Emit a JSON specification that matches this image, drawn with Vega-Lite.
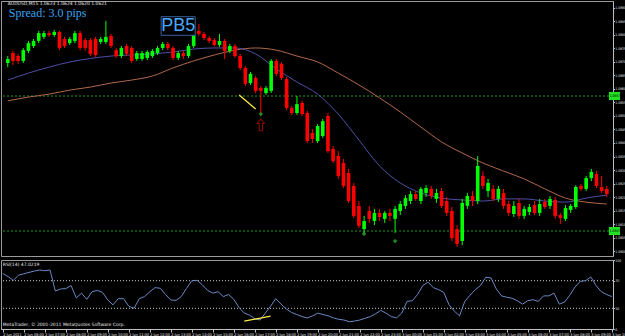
{
"$schema": "https://vega.github.io/schema/vega-lite/v6.json",
"background": "#000000",
"padding": 0,
"bounds": "flush",
"spacing": 4,
"config": {
  "view": {"stroke": "#9a9a9a", "strokeWidth": 1},
  "axis": {"grid": false, "labelColor": "#e8e8e8", "labelFont": "DejaVu Sans Condensed", "labelFontSize": 3.4, "tickColor": "#bdbdbd", "domainColor": "#bdbdbd", "tickSize": 1.5, "labelPadding": 0.3, "labelOverlap": false, "labelFlush": false}
},
"datasets": {
"bars": [
{"i":0,"o":1.06696,"h":1.06722,"l":1.06681,"c":1.06711,"rsi":80.5},
{"i":1,"o":1.06733,"h":1.06741,"l":1.06689,"c":1.06704,"rsi":76},
{"i":2,"o":1.06722,"h":1.06730,"l":1.06693,"c":1.06704,"rsi":70.5},
{"i":3,"o":1.06704,"h":1.06752,"l":1.06696,"c":1.06744,"rsi":78},
{"i":4,"o":1.06741,"h":1.06778,"l":1.06733,"c":1.06770,"rsi":80},
{"i":5,"o":1.06759,"h":1.06785,"l":1.06752,"c":1.06778,"rsi":82},
{"i":6,"o":1.06778,"h":1.06815,"l":1.06770,"c":1.06807,"rsi":84},
{"i":7,"o":1.06793,"h":1.06815,"l":1.06785,"c":1.06807,"rsi":85.5},
{"i":8,"o":1.06807,"h":1.06815,"l":1.06793,"c":1.06800,"rsi":84.5},
{"i":9,"o":1.06800,"h":1.06819,"l":1.06793,"c":1.06811,"rsi":85.5},
{"i":10,"o":1.06811,"h":1.06815,"l":1.06744,"c":1.06752,"rsi":55},
{"i":11,"o":1.06785,"h":1.06793,"l":1.06752,"c":1.06759,"rsi":58},
{"i":12,"o":1.06770,"h":1.06793,"l":1.06763,"c":1.06785,"rsi":58.5},
{"i":13,"o":1.06778,"h":1.06815,"l":1.06770,"c":1.06807,"rsi":63},
{"i":14,"o":1.06807,"h":1.06815,"l":1.06744,"c":1.06752,"rsi":45},
{"i":15,"o":1.06781,"h":1.06789,"l":1.06741,"c":1.06752,"rsi":52},
{"i":16,"o":1.06781,"h":1.06789,"l":1.06722,"c":1.06730,"rsi":43},
{"i":17,"o":1.06785,"h":1.06793,"l":1.06719,"c":1.06726,"rsi":54},
{"i":18,"o":1.06774,"h":1.06793,"l":1.06767,"c":1.06785,"rsi":56},
{"i":19,"o":1.06774,"h":1.06852,"l":1.06767,"c":1.06793,"rsi":53},
{"i":20,"o":1.06796,"h":1.06804,"l":1.06752,"c":1.06759,"rsi":42},
{"i":21,"o":1.06744,"h":1.06752,"l":1.06715,"c":1.06722,"rsi":35},
{"i":22,"o":1.06722,"h":1.06759,"l":1.06715,"c":1.06752,"rsi":44},
{"i":23,"o":1.06759,"h":1.06767,"l":1.06722,"c":1.06730,"rsi":44},
{"i":24,"o":1.06752,"h":1.06759,"l":1.06696,"c":1.06704,"rsi":33},
{"i":25,"o":1.06711,"h":1.06741,"l":1.06704,"c":1.06733,"rsi":30},
{"i":26,"o":1.06711,"h":1.06741,"l":1.06704,"c":1.06733,"rsi":44},
{"i":27,"o":1.06715,"h":1.06744,"l":1.06707,"c":1.06737,"rsi":47},
{"i":28,"o":1.06722,"h":1.06748,"l":1.06715,"c":1.06741,"rsi":54},
{"i":29,"o":1.06733,"h":1.06759,"l":1.06726,"c":1.06752,"rsi":60},
{"i":30,"o":1.06752,"h":1.06774,"l":1.06744,"c":1.06767,"rsi":59},
{"i":31,"o":1.06767,"h":1.06774,"l":1.06744,"c":1.06752,"rsi":50},
{"i":32,"o":1.06752,"h":1.06759,"l":1.06707,"c":1.06715,"rsi":42},
{"i":33,"o":1.06715,"h":1.06741,"l":1.06707,"c":1.06733,"rsi":41.5},
{"i":34,"o":1.06733,"h":1.06741,"l":1.06711,"c":1.06722,"rsi":47},
{"i":35,"o":1.06722,"h":1.06767,"l":1.06715,"c":1.06759,"rsi":59},
{"i":36,"o":1.06759,"h":1.06811,"l":1.06752,"c":1.06804,"rsi":70},
{"i":37,"o":1.06815,"h":1.06841,"l":1.06796,"c":1.06804,"rsi":70.5},
{"i":38,"o":1.06804,"h":1.06811,"l":1.06781,"c":1.06789,"rsi":64},
{"i":39,"o":1.06789,"h":1.06796,"l":1.06770,"c":1.06778,"rsi":56},
{"i":40,"o":1.06781,"h":1.06789,"l":1.06756,"c":1.06763,"rsi":52},
{"i":41,"o":1.06763,"h":1.06804,"l":1.06756,"c":1.06778,"rsi":54},
{"i":42,"o":1.06778,"h":1.06785,"l":1.06711,"c":1.06741,"rsi":47},
{"i":43,"o":1.06741,"h":1.06767,"l":1.06733,"c":1.06759,"rsi":50},
{"i":44,"o":1.06759,"h":1.06767,"l":1.06715,"c":1.06722,"rsi":43},
{"i":45,"o":1.06722,"h":1.06730,"l":1.06670,"c":1.06678,"rsi":31},
{"i":46,"o":1.06678,"h":1.06685,"l":1.06611,"c":1.06619,"rsi":23},
{"i":47,"o":1.06622,"h":1.06663,"l":1.06615,"c":1.06656,"rsi":20},
{"i":48,"o":1.06641,"h":1.06648,"l":1.06585,"c":1.06593,"rsi":15},
{"i":49,"o":1.06604,"h":1.06611,"l":1.06511,"c":1.06593,"rsi":13},
{"i":50,"o":1.06585,"h":1.06611,"l":1.06578,"c":1.06604,"rsi":23},
{"i":51,"o":1.06593,"h":1.06711,"l":1.06585,"c":1.06704,"rsi":33},
{"i":52,"o":1.06704,"h":1.06711,"l":1.06648,"c":1.06656,"rsi":44},
{"i":53,"o":1.06693,"h":1.06700,"l":1.06633,"c":1.06641,"rsi":36},
{"i":54,"o":1.06637,"h":1.06644,"l":1.06522,"c":1.06530,"rsi":29},
{"i":55,"o":1.06530,"h":1.06537,"l":1.06504,"c":1.06511,"rsi":24},
{"i":56,"o":1.06511,"h":1.06574,"l":1.06504,"c":1.06544,"rsi":21},
{"i":57,"o":1.06548,"h":1.06556,"l":1.06500,"c":1.06507,"rsi":18},
{"i":58,"o":1.06511,"h":1.06519,"l":1.06400,"c":1.06407,"rsi":16},
{"i":59,"o":1.06437,"h":1.06452,"l":1.06400,"c":1.06415,"rsi":19},
{"i":60,"o":1.06407,"h":1.06470,"l":1.06400,"c":1.06463,"rsi":23},
{"i":61,"o":1.06426,"h":1.06489,"l":1.06419,"c":1.06481,"rsi":21},
{"i":62,"o":1.06500,"h":1.06511,"l":1.06363,"c":1.06370,"rsi":19},
{"i":63,"o":1.06378,"h":1.06389,"l":1.06326,"c":1.06333,"rsi":16},
{"i":64,"o":1.06352,"h":1.06370,"l":1.06267,"c":1.06278,"rsi":14},
{"i":65,"o":1.06326,"h":1.06341,"l":1.06233,"c":1.06241,"rsi":13},
{"i":66,"o":1.06289,"h":1.06304,"l":1.06178,"c":1.06185,"rsi":10.5},
{"i":67,"o":1.06241,"h":1.06252,"l":1.06122,"c":1.06130,"rsi":11.5},
{"i":68,"o":1.06167,"h":1.06185,"l":1.06085,"c":1.06093,"rsi":13},
{"i":69,"o":1.06081,"h":1.06130,"l":1.06067,"c":1.06111,"rsi":15.5},
{"i":70,"o":1.06148,"h":1.06167,"l":1.06104,"c":1.06119,"rsi":18},
{"i":71,"o":1.06111,"h":1.06156,"l":1.06096,"c":1.06141,"rsi":22},
{"i":72,"o":1.06141,"h":1.06156,"l":1.06111,"c":1.06126,"rsi":27},
{"i":73,"o":1.06119,"h":1.06148,"l":1.06104,"c":1.06141,"rsi":23},
{"i":74,"o":1.06141,"h":1.06156,"l":1.06111,"c":1.06130,"rsi":18},
{"i":75,"o":1.06119,"h":1.06167,"l":1.06067,"c":1.06156,"rsi":16},
{"i":76,"o":1.06148,"h":1.06185,"l":1.06133,"c":1.06174,"rsi":23},
{"i":77,"o":1.06167,"h":1.06207,"l":1.06156,"c":1.06196,"rsi":40},
{"i":78,"o":1.06185,"h":1.06222,"l":1.06174,"c":1.06211,"rsi":41},
{"i":79,"o":1.06211,"h":1.06222,"l":1.06185,"c":1.06193,"rsi":50},
{"i":80,"o":1.06185,"h":1.06237,"l":1.06174,"c":1.06230,"rsi":63},
{"i":81,"o":1.06215,"h":1.06244,"l":1.06200,"c":1.06233,"rsi":68},
{"i":82,"o":1.06230,"h":1.06241,"l":1.06193,"c":1.06204,"rsi":60},
{"i":83,"o":1.06193,"h":1.06230,"l":1.06178,"c":1.06215,"rsi":57},
{"i":84,"o":1.06222,"h":1.06233,"l":1.06159,"c":1.06167,"rsi":53},
{"i":85,"o":1.06185,"h":1.06200,"l":1.06130,"c":1.06141,"rsi":35},
{"i":86,"o":1.06148,"h":1.06163,"l":1.06037,"c":1.06048,"rsi":26},
{"i":87,"o":1.06081,"h":1.06096,"l":1.06015,"c":1.06026,"rsi":19},
{"i":88,"o":1.06037,"h":1.06193,"l":1.06022,"c":1.06178,"rsi":40},
{"i":89,"o":1.06167,"h":1.06215,"l":1.06156,"c":1.06204,"rsi":49},
{"i":90,"o":1.06204,"h":1.06222,"l":1.06167,"c":1.06185,"rsi":57},
{"i":91,"o":1.06185,"h":1.06352,"l":1.06174,"c":1.06315,"rsi":63},
{"i":92,"o":1.06278,"h":1.06296,"l":1.06230,"c":1.06241,"rsi":75},
{"i":93,"o":1.06222,"h":1.06267,"l":1.06200,"c":1.06252,"rsi":74},
{"i":94,"o":1.06230,"h":1.06244,"l":1.06185,"c":1.06193,"rsi":58},
{"i":95,"o":1.06193,"h":1.06241,"l":1.06181,"c":1.06230,"rsi":48},
{"i":96,"o":1.06215,"h":1.06230,"l":1.06156,"c":1.06167,"rsi":46},
{"i":97,"o":1.06174,"h":1.06185,"l":1.06130,"c":1.06141,"rsi":44.5},
{"i":98,"o":1.06137,"h":1.06185,"l":1.06126,"c":1.06167,"rsi":41},
{"i":99,"o":1.06178,"h":1.06193,"l":1.06119,"c":1.06130,"rsi":36},
{"i":100,"o":1.06130,"h":1.06167,"l":1.06119,"c":1.06156,"rsi":41},
{"i":101,"o":1.06144,"h":1.06174,"l":1.06133,"c":1.06163,"rsi":42.5},
{"i":102,"o":1.06170,"h":1.06185,"l":1.06133,"c":1.06141,"rsi":40},
{"i":103,"o":1.06141,"h":1.06193,"l":1.06130,"c":1.06174,"rsi":48},
{"i":104,"o":1.06181,"h":1.06193,"l":1.06156,"c":1.06163,"rsi":48},
{"i":105,"o":1.06167,"h":1.06204,"l":1.06156,"c":1.06193,"rsi":52},
{"i":106,"o":1.06189,"h":1.06200,"l":1.06119,"c":1.06130,"rsi":36},
{"i":107,"o":1.06133,"h":1.06141,"l":1.06100,"c":1.06122,"rsi":39},
{"i":108,"o":1.06119,"h":1.06170,"l":1.06111,"c":1.06159,"rsi":49},
{"i":109,"o":1.06152,"h":1.06174,"l":1.06141,"c":1.06167,"rsi":61},
{"i":110,"o":1.06163,"h":1.06244,"l":1.06156,"c":1.06237,"rsi":69},
{"i":111,"o":1.06241,"h":1.06248,"l":1.06222,"c":1.06230,"rsi":70},
{"i":112,"o":1.06230,"h":1.06278,"l":1.06222,"c":1.06270,"rsi":75.5},
{"i":113,"o":1.06270,"h":1.06304,"l":1.06259,"c":1.06293,"rsi":63},
{"i":114,"o":1.06285,"h":1.06296,"l":1.06233,"c":1.06241,"rsi":54},
{"i":115,"o":1.06237,"h":1.06278,"l":1.06215,"c":1.06222,"rsi":50},
{"i":116,"o":1.06230,"h":1.06241,"l":1.06200,"c":1.06211,"rsi":47}
],
"ma": [
{"i":0,"fast":1.06633,"slow":1.06556},
{"i":4,"fast":1.06659,"slow":1.06570},
{"i":8,"fast":1.06681,"slow":1.06581},
{"i":12,"fast":1.06700,"slow":1.06596},
{"i":16,"fast":1.06713,"slow":1.06607},
{"i":20,"fast":1.06722,"slow":1.06622},
{"i":24,"fast":1.06726,"slow":1.06633},
{"i":28,"fast":1.06730,"slow":1.06648},
{"i":32,"fast":1.06737,"slow":1.06678},
{"i":36,"fast":1.06748,"slow":1.06704},
{"i":40,"fast":1.06752,"slow":1.06726},
{"i":44,"fast":1.06752,"slow":1.06744},
{"i":48,"fast":1.06730,"slow":1.06752},
{"i":52,"fast":1.06674,"slow":1.06744},
{"i":56,"fast":1.06626,"slow":1.06722},
{"i":60,"fast":1.06581,"slow":1.06700},
{"i":64,"fast":1.06507,"slow":1.06659},
{"i":68,"fast":1.06411,"slow":1.06615},
{"i":72,"fast":1.06315,"slow":1.06567},
{"i":76,"fast":1.06252,"slow":1.06515},
{"i":80,"fast":1.06215,"slow":1.06459},
{"i":84,"fast":1.06196,"slow":1.06404},
{"i":88,"fast":1.06189,"slow":1.06363},
{"i":92,"fast":1.06185,"slow":1.06326},
{"i":96,"fast":1.06193,"slow":1.06296},
{"i":100,"fast":1.06193,"slow":1.06267},
{"i":104,"fast":1.06185,"slow":1.06230},
{"i":108,"fast":1.06181,"slow":1.06196},
{"i":112,"fast":1.06196,"slow":1.06181},
{"i":116,"fast":1.06207,"slow":1.06174}
]
},
"vconcat": [
{
  "width": 612,
  "height": 255,
  "layer": [
    {
      "data": {"values": [{"level": 1.06574}, {"level": 1.06074}]},
      "mark": {"type": "rule", "color": "#1e9a1e", "strokeDash": [2, 2], "strokeWidth": 1},
      "encoding": {
        "y": {"field": "level", "type": "quantitative", "title": null, "scale": {"domain": [1.059815, 1.069259], "nice": false, "zero": false}, "axis": {"orient": "right", "values": [1.06, 1.0605, 1.061, 1.0615, 1.062, 1.0625, 1.063, 1.0635, 1.064, 1.0645, 1.065, 1.0655, 1.066, 1.0665, 1.067, 1.0675, 1.068, 1.0685, 1.069], "format": ".4f", "labelOverlap": false}}
      }
    },
    {
      "data": {"name": "ma"},
      "mark": {"type": "line", "color": "#b0694a", "strokeWidth": 1, "interpolate": "monotone"},
      "encoding": {
        "x": {"field": "i", "type": "quantitative", "title": null, "axis": null, "scale": {"domain": [-0.343, 116.23], "nice": false, "zero": false}},
        "y": {"field": "slow", "type": "quantitative", "title": null, "scale": {"domain": [1.059815, 1.069259], "nice": false, "zero": false}, "axis": {"orient": "right", "values": [1.06, 1.0605, 1.061, 1.0615, 1.062, 1.0625, 1.063, 1.0635, 1.064, 1.0645, 1.065, 1.0655, 1.066, 1.0665, 1.067, 1.0675, 1.068, 1.0685, 1.069], "format": ".4f", "labelOverlap": false}}
      }
    },
    {
      "data": {"name": "ma"},
      "mark": {"type": "line", "color": "#4f4fa8", "strokeWidth": 1, "interpolate": "monotone"},
      "encoding": {
        "x": {"field": "i", "type": "quantitative", "title": null, "axis": null, "scale": {"domain": [-0.343, 116.23], "nice": false, "zero": false}},
        "y": {"field": "fast", "type": "quantitative", "title": null, "scale": {"domain": [1.059815, 1.069259], "nice": false, "zero": false}, "axis": {"orient": "right", "values": [1.06, 1.0605, 1.061, 1.0615, 1.062, 1.0625, 1.063, 1.0635, 1.064, 1.0645, 1.065, 1.0655, 1.066, 1.0665, 1.067, 1.0675, 1.068, 1.0685, 1.069], "format": ".4f", "labelOverlap": false}}
      }
    },
    {
      "data": {"name": "bars"},
      "mark": {"type": "rule", "strokeWidth": 1},
      "encoding": {
        "x": {"field": "i", "type": "quantitative", "title": null, "axis": null, "scale": {"domain": [-0.343, 116.23], "nice": false, "zero": false}},
        "y": {"field": "l", "type": "quantitative", "title": null, "scale": {"domain": [1.059815, 1.069259], "nice": false, "zero": false}, "axis": {"orient": "right", "values": [1.06, 1.0605, 1.061, 1.0615, 1.062, 1.0625, 1.063, 1.0635, 1.064, 1.0645, 1.065, 1.0655, 1.066, 1.0665, 1.067, 1.0675, 1.068, 1.0685, 1.069], "format": ".4f", "labelOverlap": false}},
        "y2": {"field": "h"},
        "color": {"condition": {"test": "datum.c >= datum.o", "value": "#00ff00"}, "value": "#ff0000"}
      }
    },
    {
      "data": {"name": "bars"},
      "mark": {"type": "bar", "width": 3.6},
      "encoding": {
        "x": {"field": "i", "type": "quantitative", "title": null, "axis": null, "scale": {"domain": [-0.343, 116.23], "nice": false, "zero": false}},
        "y": {"field": "o", "type": "quantitative", "title": null, "scale": {"domain": [1.059815, 1.069259], "nice": false, "zero": false}, "axis": {"orient": "right", "values": [1.06, 1.0605, 1.061, 1.0615, 1.062, 1.0625, 1.063, 1.0635, 1.064, 1.0645, 1.065, 1.0655, 1.066, 1.0665, 1.067, 1.0675, 1.068, 1.0685, 1.069], "format": ".4f", "labelOverlap": false}},
        "y2": {"field": "c"},
        "color": {"condition": {"test": "datum.c >= datum.o", "value": "#00ff00"}, "value": "#ff0000"}
      }
    },
    {
      "data": {"values": [{"i": 44.8, "p": 1.06578}, {"i": 48, "p": 1.06526}]},
      "mark": {"type": "line", "color": "#ffee44", "strokeWidth": 1.3},
      "encoding": {
        "x": {"field": "i", "type": "quantitative", "title": null, "axis": null, "scale": {"domain": [-0.343, 116.23], "nice": false, "zero": false}},
        "y": {"field": "p", "type": "quantitative", "title": null, "scale": {"domain": [1.059815, 1.069259], "nice": false, "zero": false}, "axis": {"orient": "right", "values": [1.06, 1.0605, 1.061, 1.0615, 1.062, 1.0625, 1.063, 1.0635, 1.064, 1.0645, 1.065, 1.0655, 1.066, 1.0665, 1.067, 1.0675, 1.068, 1.0685, 1.069], "format": ".4f", "labelOverlap": false}}
      }
    },
    {
      "data": {"values": [{"i": 49, "p": 1.06467}]},
      "mark": {"type": "point", "shape": "M0,-1L0.65,-0.25L0.28,-0.25L0.28,1L-0.28,1L-0.28,-0.25L-0.65,-0.25Z", "size": 140, "filled": false, "color": "#e01010", "strokeWidth": 1},
      "encoding": {
        "x": {"field": "i", "type": "quantitative", "title": null, "axis": null, "scale": {"domain": [-0.343, 116.23], "nice": false, "zero": false}},
        "y": {"field": "p", "type": "quantitative", "title": null, "scale": {"domain": [1.059815, 1.069259], "nice": false, "zero": false}, "axis": {"orient": "right", "values": [1.06, 1.0605, 1.061, 1.0615, 1.062, 1.0625, 1.063, 1.0635, 1.064, 1.0645, 1.065, 1.0655, 1.066, 1.0665, 1.067, 1.0675, 1.068, 1.0685, 1.069], "format": ".4f", "labelOverlap": false}}
      }
    },
    {
      "data": {"values": [{"i": 49, "p": 1.06507}, {"i": 69, "p": 1.06063}, {"i": 75, "p": 1.06037}]},
      "mark": {"type": "point", "shape": "cross", "size": 14, "filled": true, "color": "#30d030"},
      "encoding": {
        "x": {"field": "i", "type": "quantitative", "title": null, "axis": null, "scale": {"domain": [-0.343, 116.23], "nice": false, "zero": false}},
        "y": {"field": "p", "type": "quantitative", "title": null, "scale": {"domain": [1.059815, 1.069259], "nice": false, "zero": false}, "axis": {"orient": "right", "values": [1.06, 1.0605, 1.061, 1.0615, 1.062, 1.0625, 1.063, 1.0635, 1.064, 1.0645, 1.065, 1.0655, 1.066, 1.0665, 1.067, 1.0675, 1.068, 1.0685, 1.069], "format": ".4f", "labelOverlap": false}}
      }
    },
    {
      "data": {"values": [{"i": 29.7, "i2": 36.3, "p": 1.068678, "p2": 1.067989}]},
      "mark": {"type": "rect", "fill": "#000000", "stroke": "#3a5f9a", "strokeWidth": 1},
      "encoding": {
        "x": {"field": "i", "type": "quantitative", "title": null, "axis": null, "scale": {"domain": [-0.343, 116.23], "nice": false, "zero": false}},
        "x2": {"field": "i2"},
        "y": {"field": "p", "type": "quantitative", "title": null, "scale": {"domain": [1.059815, 1.069259], "nice": false, "zero": false}, "axis": {"orient": "right", "values": [1.06, 1.0605, 1.061, 1.0615, 1.062, 1.0625, 1.063, 1.0635, 1.064, 1.0645, 1.065, 1.0655, 1.066, 1.0665, 1.067, 1.0675, 1.068, 1.0685, 1.069], "format": ".4f", "labelOverlap": false}},
        "y2": {"field": "p2"}
      }
    },
    {
      "data": {"values": [{"i": 33, "p": 1.06833, "label": "PB5"}]},
      "mark": {"type": "text", "font": "Liberation Sans", "fontSize": 18, "color": "#4aa8f8", "align": "center", "baseline": "middle"},
      "encoding": {
        "x": {"field": "i", "type": "quantitative", "title": null, "axis": null, "scale": {"domain": [-0.343, 116.23], "nice": false, "zero": false}},
        "y": {"field": "p", "type": "quantitative", "title": null, "scale": {"domain": [1.059815, 1.069259], "nice": false, "zero": false}, "axis": {"orient": "right", "values": [1.06, 1.0605, 1.061, 1.0615, 1.062, 1.0625, 1.063, 1.0635, 1.064, 1.0645, 1.065, 1.0655, 1.066, 1.0665, 1.067, 1.0675, 1.068, 1.0685, 1.069], "format": ".4f", "labelOverlap": false}},
        "text": {"field": "label"}
      }
    },
    {
      "data": {"values": [{"i": 0.2, "p": 1.068815, "label": "Spread: 3.0 pips"}]},
      "mark": {"type": "text", "font": "Liberation Serif", "fontSize": 12, "color": "#3aa4ee", "align": "left", "baseline": "middle"},
      "encoding": {
        "x": {"field": "i", "type": "quantitative", "title": null, "axis": null, "scale": {"domain": [-0.343, 116.23], "nice": false, "zero": false}},
        "y": {"field": "p", "type": "quantitative", "title": null, "scale": {"domain": [1.059815, 1.069259], "nice": false, "zero": false}, "axis": {"orient": "right", "values": [1.06, 1.0605, 1.061, 1.0615, 1.062, 1.0625, 1.063, 1.0635, 1.064, 1.0645, 1.065, 1.0655, 1.066, 1.0665, 1.067, 1.0675, 1.068, 1.0685, 1.069], "format": ".4f", "labelOverlap": false}},
        "text": {"field": "label"}
      }
    },
    {
      "data": {"values": [{"i": 0, "p": 1.06913, "label": "AUDUSD,M15  1.0623 1.0624 1.0620 1.0621"}]},
      "mark": {"type": "text", "font": "DejaVu Sans", "fontSize": 4.5, "color": "#e8e8e8", "align": "left", "baseline": "middle"},
      "encoding": {
        "x": {"field": "i", "type": "quantitative", "title": null, "axis": null, "scale": {"domain": [-0.343, 116.23], "nice": false, "zero": false}},
        "y": {"field": "p", "type": "quantitative", "title": null, "scale": {"domain": [1.059815, 1.069259], "nice": false, "zero": false}, "axis": {"orient": "right", "values": [1.06, 1.0605, 1.061, 1.0615, 1.062, 1.0625, 1.063, 1.0635, 1.064, 1.0645, 1.065, 1.0655, 1.066, 1.0665, 1.067, 1.0675, 1.068, 1.0685, 1.069], "format": ".4f", "labelOverlap": false}},
        "text": {"field": "label"}
      }
    },
    {
      "data": {"values": [{"i": 116.4, "i2": 118.55, "p": 1.06589, "p2": 1.06559}, {"i": 116.4, "i2": 118.55, "p": 1.06089, "p2": 1.06059}]},
      "mark": {"type": "rect", "fill": "#22e022"},
      "encoding": {
        "x": {"field": "i", "type": "quantitative", "title": null, "axis": null, "scale": {"domain": [-0.343, 116.23], "nice": false, "zero": false}},
        "x2": {"field": "i2"},
        "y": {"field": "p", "type": "quantitative", "title": null, "scale": {"domain": [1.059815, 1.069259], "nice": false, "zero": false}, "axis": {"orient": "right", "values": [1.06, 1.0605, 1.061, 1.0615, 1.062, 1.0625, 1.063, 1.0635, 1.064, 1.0645, 1.065, 1.0655, 1.066, 1.0665, 1.067, 1.0675, 1.068, 1.0685, 1.069], "format": ".4f", "labelOverlap": false}},
        "y2": {"field": "p2"}
      }
    },
    {
      "data": {"values": [{"i": 116.5, "p": 1.06574, "label": "1.0657"}, {"i": 116.5, "p": 1.06074, "label": "1.0607"}]},
      "mark": {"type": "text", "font": "DejaVu Sans Condensed", "fontSize": 3.4, "color": "#000000", "align": "left", "baseline": "middle"},
      "encoding": {
        "x": {"field": "i", "type": "quantitative", "title": null, "axis": null, "scale": {"domain": [-0.343, 116.23], "nice": false, "zero": false}},
        "y": {"field": "p", "type": "quantitative", "title": null, "scale": {"domain": [1.059815, 1.069259], "nice": false, "zero": false}, "axis": {"orient": "right", "values": [1.06, 1.0605, 1.061, 1.0615, 1.062, 1.0625, 1.063, 1.0635, 1.064, 1.0645, 1.065, 1.0655, 1.066, 1.0665, 1.067, 1.0675, 1.068, 1.0685, 1.069], "format": ".4f", "labelOverlap": false}},
        "text": {"field": "label"}
      }
    }
  ]
},
{
  "width": 612,
  "height": 69,
  "layer": [
    {
      "data": {"values": [{"lv": 70}, {"lv": 30}]},
      "mark": {"type": "rule", "color": "#c8c8c8", "strokeDash": [1, 2], "strokeWidth": 1},
      "encoding": {
        "y": {"field": "lv", "type": "quantitative", "title": null, "scale": {"domain": [0, 100], "nice": false}, "axis": {"orient": "right", "values": [0, 30, 70, 100], "labelOverlap": false}}
      }
    },
    {
      "data": {"name": "bars"},
      "mark": {"type": "line", "color": "#6a88c4", "strokeWidth": 1},
      "encoding": {
        "x": {"field": "i", "type": "quantitative", "title": null, "scale": {"domain": [-0.343, 116.23], "nice": false, "zero": false}, "axis": {"orient": "bottom", "values": [0, 4, 8, 12, 16, 20, 24, 28, 32, 36, 40, 44, 48, 52, 56, 60, 64, 68, 72, 76, 80, 84, 88, 92, 96, 100, 104, 108, 112, 116], "labelExpr": "datum.value == 0 ? '2 Jun 2011' : (datum.value >= 76 ? '3 Jun ' : '2 Jun ') + ((5 + datum.value / 4) % 24 < 10 ? '0' : '') + ((5 + datum.value / 4) % 24) + ':00'", "labelAlign": "left", "labelBaseline": "top", "labelPadding": 0.5, "tickSize": 3, "labelBound": false, "labelFontSize": 3.8}},
        "y": {"field": "rsi", "type": "quantitative", "title": null, "scale": {"domain": [0, 100], "nice": false}, "axis": {"orient": "right", "values": [0, 30, 70, 100], "labelOverlap": false}}
      }
    },
    {
      "data": {"values": [{"i": 46, "r": 11.4}, {"i": 51, "r": 18.6}]},
      "mark": {"type": "line", "color": "#ffee44", "strokeWidth": 1.3},
      "encoding": {
        "x": {"field": "i", "type": "quantitative", "title": null, "scale": {"domain": [-0.343, 116.23], "nice": false, "zero": false}, "axis": {"orient": "bottom", "values": [0, 4, 8, 12, 16, 20, 24, 28, 32, 36, 40, 44, 48, 52, 56, 60, 64, 68, 72, 76, 80, 84, 88, 92, 96, 100, 104, 108, 112, 116], "labelExpr": "datum.value == 0 ? '2 Jun 2011' : (datum.value >= 76 ? '3 Jun ' : '2 Jun ') + ((5 + datum.value / 4) % 24 < 10 ? '0' : '') + ((5 + datum.value / 4) % 24) + ':00'", "labelAlign": "left", "labelBaseline": "top", "labelPadding": 0.5, "tickSize": 3, "labelBound": false, "labelFontSize": 3.8}},
        "y": {"field": "r", "type": "quantitative", "title": null, "scale": {"domain": [0, 100], "nice": false}, "axis": {"orient": "right", "values": [0, 30, 70, 100], "labelOverlap": false}}
      }
    },
    {
      "data": {"values": [{"i": 0, "r": 93, "label": "RSI(14) 47.0219"}, {"i": 0, "r": 5.5, "label": "MetaTrader, © 2001-2011 MetaQuotes Software Corp."}]},
      "mark": {"type": "text", "font": "DejaVu Sans", "fontSize": 4.5, "color": "#e8e8e8", "align": "left", "baseline": "middle"},
      "encoding": {
        "x": {"field": "i", "type": "quantitative", "title": null, "scale": {"domain": [-0.343, 116.23], "nice": false, "zero": false}, "axis": {"orient": "bottom", "values": [0, 4, 8, 12, 16, 20, 24, 28, 32, 36, 40, 44, 48, 52, 56, 60, 64, 68, 72, 76, 80, 84, 88, 92, 96, 100, 104, 108, 112, 116], "labelExpr": "datum.value == 0 ? '2 Jun 2011' : (datum.value >= 76 ? '3 Jun ' : '2 Jun ') + ((5 + datum.value / 4) % 24 < 10 ? '0' : '') + ((5 + datum.value / 4) % 24) + ':00'", "labelAlign": "left", "labelBaseline": "top", "labelPadding": 0.5, "tickSize": 3, "labelBound": false, "labelFontSize": 3.8}},
        "y": {"field": "r", "type": "quantitative", "title": null, "scale": {"domain": [0, 100], "nice": false}, "axis": {"orient": "right", "values": [0, 30, 70, 100], "labelOverlap": false}},
        "text": {"field": "label"}
      }
    }
  ]
}
]
}
